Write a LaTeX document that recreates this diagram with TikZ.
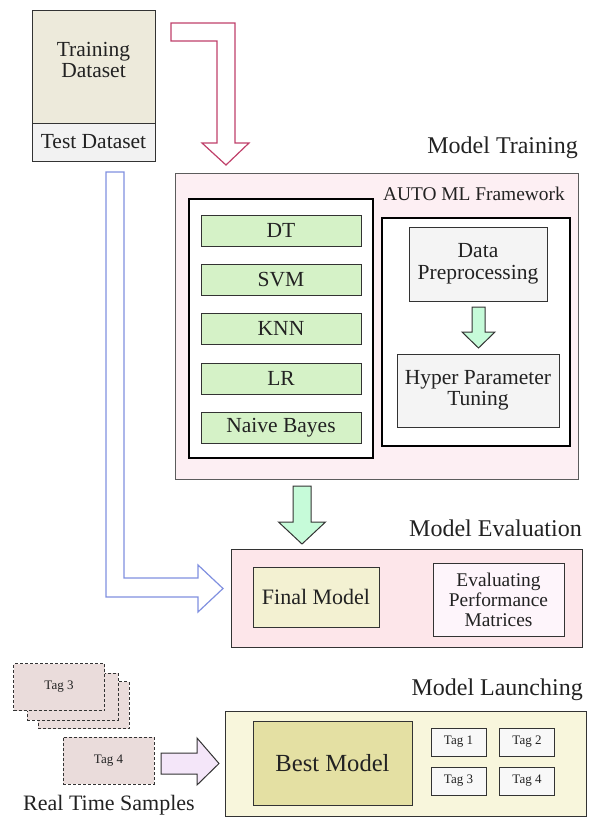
\documentclass[tikz,border=0pt]{standalone}
\usepackage{fontspec}
\setmainfont{LiberationSerif-Regular.ttf}
\usetikzlibrary{calc}
\definecolor{ink}{HTML}{222222}
\definecolor{edge}{HTML}{333333}
\definecolor{trainfill}{HTML}{EDEADB}
\definecolor{testfill}{HTML}{F2F2F2}
\definecolor{mtfill}{HTML}{FDEFF3}
\definecolor{algfill}{HTML}{D5F2C7}
\definecolor{stepfill}{HTML}{F4F4F4}
\definecolor{greenarrow}{HTML}{C6FBD9}
\definecolor{evalfill}{HTML}{FDE6EA}
\definecolor{finalfill}{HTML}{F3F1D2}
\definecolor{epmfill}{HTML}{FEF5FB}
\definecolor{launchfill}{HTML}{F8F6DC}
\definecolor{bestfill}{HTML}{E4E0A3}
\definecolor{cardfill}{HTML}{EADCDB}
\definecolor{tagfill}{HTML}{F8F8F8}
\definecolor{purplearrow}{HTML}{F4E6F9}
\definecolor{redline}{HTML}{C0406A}
\definecolor{blueline}{HTML}{8090E0}
\newcommand{\fs}[1]{\fontsize{#1}{#1}\selectfont}
\tikzset{
  box/.style={draw=edge, line width=1pt, inner sep=0pt, text=ink, align=center},
  alg/.style={box, fill=algfill, minimum width=160pt, minimum height=31pt, font=\fs{21.5}},
  frame/.style={draw=black, line width=1.4pt, fill=white, inner sep=0pt},
  title/.style={anchor=east, text=ink, inner sep=0pt, font=\fs{24}},
  sub/.style={text=ink, inner sep=0pt, align=center},
  card/.style={draw=edge, dash pattern=on 3pt off 2pt, line width=0.9pt, fill=cardfill,
    minimum width=91pt, minimum height=47pt, inner sep=0pt, text=ink, font=\fs{13}},
  tag/.style={box, fill=tagfill, minimum width=55pt, minimum height=28pt, font=\fs{13}},
  blockarrow/.style={draw=edge, line width=1pt, line join=miter}
}
\begin{document}
\begin{tikzpicture}[x=1pt, y=-1pt]
\useasboundingbox (0,0) rectangle (593,817);

% datasets
\node[box, fill=trainfill, minimum width=123pt, minimum height=113pt] (train) at (93.5,66.5) {};
\node[sub, font=\fs{21.5}, align=center] (trainlbl) at (93.5,60) {Training\\[0pt]Dataset};
\node[box, fill=testfill, minimum width=123pt, minimum height=38pt, font=\fs{21.5}] (test) at (93.5,142) {Test Dataset};

% model training block
\node[box, draw=edge!80, fill=mtfill, minimum width=403pt, minimum height=306pt] (mt) at (376.5,326) {};
\node[title] (mtlbl) at (578,148) {Model Training};
\node[sub, anchor=east, font=\fs{19.4}] (automl) at (565,194) {AUTO ML Framework};
\node[frame, minimum width=184pt, minimum height=259pt] (algs) at (281,328.5) {};
\node[alg] (dt) at (281,230.5) {DT};
\node[alg] (svm) at (281,279.5) {SVM};
\node[alg] (knn) at (281,328.5) {KNN};
\node[alg] (lr) at (281,378.5) {LR};
\node[alg] (nb) at (281,427.5) {Naive Bayes};
\node[frame, minimum width=188pt, minimum height=228pt] (pipe) at (476,332) {};
\node[box, fill=stepfill, minimum width=138pt, minimum height=74pt, font=\fs{21.5}] (dp) at (478,264) {Data\\[1pt]Preprocessing};
\node[box, fill=stepfill, minimum width=162pt, minimum height=73pt, font=\fs{21.5}] (hpt) at (478,390.5) {Hyper Parameter\\[0pt]Tuning};

% small arrow between the pipeline steps
\draw[blockarrow, fill=greenarrow]
  (472,307) -- (485,307) -- (485,332) -- (495,332) -- (478.5,348)
  -- (462,332) -- (472,332) -- cycle;

% red arrow: training data into the model training block
\draw[draw=redline, line width=1.2pt, fill=white, line join=miter]
  (171,23) -- (235,23) -- (235,143) -- (249,143) -- (226,165)
  -- (202,143) -- (217,143) -- (217,41) -- (171,41) -- cycle;

% model evaluation block
\draw[blockarrow, fill=greenarrow]
  (293,486) -- (311,486) -- (311,522) -- (325.5,522) -- (302,544)
  -- (278.5,522) -- (293,522) -- cycle;
\node[title] (evlbl) at (582,528) {Model Evaluation};
\node[box, fill=evalfill, minimum width=351pt, minimum height=98pt] (eval) at (406.5,598) {};
\node[box, fill=finalfill, minimum width=126pt, minimum height=60pt, font=\fs{22}] (final) at (316,597) {Final Model};
\node[box, fill=epmfill, minimum width=131pt, minimum height=73pt, font=\fs{19.4}] (epm) at (498.5,599.5) {Evaluating\\[0.5pt]Performance\\[0.5pt]Matrices};

% blue arrow: test data into the evaluation block
\draw[draw=blueline, line width=1.2pt, fill=white, line join=miter]
  (106,172) -- (124,172) -- (124,578) -- (198,578) -- (198,565) -- (223,588.5)
  -- (198,612) -- (198,597) -- (106,597) -- cycle;

% model launching block
\node[title] (lnlbl) at (583,690) {Model Launching};
\node[box, fill=launchfill, minimum width=361pt, minimum height=105pt] (launch) at (405.5,763.5) {};
\node[box, fill=bestfill, minimum width=159pt, minimum height=84pt, font=\fs{24.6}] (best) at (332.5,763) {Best Model};
\node[tag] (t1) at (458.5,742) {Tag 1};
\node[tag] (t2) at (527,742) {Tag 2};
\node[tag] (t3) at (458.5,781) {Tag 3};
\node[tag] (t4) at (527,781) {Tag 4};

% real time samples
\node[card] (c3) at (83.5,705) {};
\node[card] (c2) at (72.5,696.5) {};
\node[card] (c1) at (59,687) {Tag 3};
\node[card] (c4) at (108.5,760.5) {Tag 4};
\node[sub, font=\fs{22}] (rts) at (109,805) {Real Time Samples};
\draw[blockarrow, fill=purplearrow]
  (161,753) -- (197,753) -- (197,738) -- (219,763.5) -- (197,785)
  -- (197,774) -- (161,774) -- cycle;
\end{tikzpicture}
\end{document}
